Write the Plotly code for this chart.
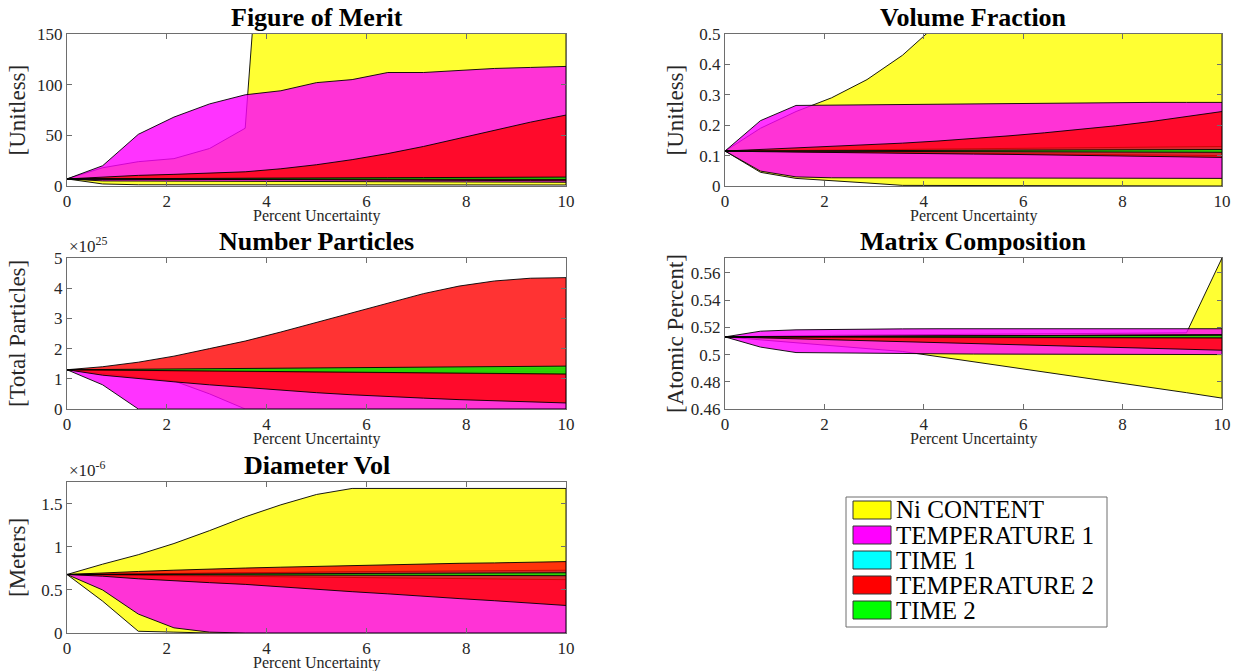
import plotly.graph_objects as go

# ---------------------------------------------------------------------------
# Sensitivity bands: for every input parameter the min/max envelope of each
# output quantity as the input uncertainty grows from 0 to 10 percent.
# ---------------------------------------------------------------------------
PCT = [0.0, 0.714, 1.429, 2.143, 2.857, 3.571, 4.286, 5.0,
       5.714, 6.429, 7.143, 7.857, 8.571, 9.286, 10.0]

PARAMS = ["Ni CONTENT", "TEMPERATURE 1", "TIME 1", "TEMPERATURE 2", "TIME 2"]
COLORS = ["255,255,0", "255,0,255", "0,255,255", "255,0,0", "0,255,0"]

# --- Figure of Merit [unitless] -------------------------------------------
fom_ni_hi = [7, 18, 24, 27, 37, 57, 530, 600, 650, 700, 720, 740, 760, 780, 800]
fom_ni_lo = [7, 2, 1.2, 1.1, 1.0, 1.0, 1.0, 1.0, 1.0, 1.0, 1.0, 1.0, 1.0, 1.0, 1.0]
fom_t1_hi = [7, 20, 51, 68, 81, 90, 94, 102, 105, 112, 112, 114, 116, 117, 118]
fom_t1_lo = [7, 5, 4.6, 4.5, 4.4, 4.3, 4.2, 4.1, 4.0, 4.0, 3.9, 3.9, 3.8, 3.8, 3.7]
fom_h1_hi = [7, 7.1, 7.1, 7.2, 7.2, 7.3, 7.3, 7.4, 7.4, 7.5, 7.5, 7.6, 7.6, 7.7, 7.7]
fom_h1_lo = [7, 6.9, 6.9, 6.8, 6.8, 6.7, 6.7, 6.6, 6.6, 6.5, 6.5, 6.4, 6.4, 6.3, 6.3]
fom_t2_hi = [7, 9, 10.5, 11.5, 12.5, 14, 17, 21, 26, 32, 39, 47, 55, 63, 70]
fom_t2_lo = [7, 6.6, 6.4, 6.3, 6.2, 6.1, 6.0, 5.9, 5.8, 5.7, 5.6, 5.5, 5.4, 5.3, 5.2]
fom_h2_hi = [7, 7.2, 7.3, 7.4, 7.5, 7.6, 7.8, 7.9, 8.0, 8.2, 8.3, 8.4, 8.5, 8.7, 8.8]
fom_h2_lo = [7, 6.9, 6.9, 6.8, 6.8, 6.8, 6.7, 6.7, 6.7, 6.6, 6.6, 6.6, 6.6, 6.5, 6.5]

# --- Volume Fraction [unitless] -------------------------------------------
vf_ni_hi = [0.115, 0.19, 0.245, 0.29, 0.35, 0.43, 0.535, 0.65, 0.78, 0.9, 1.0, 1.1, 1.2, 1.3, 1.4]
vf_ni_lo = [0.115, 0.045, 0.025, 0.018, 0.01, 0.002, 0, 0, 0, 0, 0, 0, 0, 0, 0]
vf_t1_hi = [0.115, 0.215, 0.265, 0.266, 0.267, 0.268, 0.269, 0.27, 0.271, 0.274,
            0.275, 0.275, 0.275, 0.275, 0.275]
vf_t1_lo = [0.115, 0.049, 0.03, 0.027, 0.026, 0.025, 0.025, 0.025, 0.025, 0.025,
            0.025, 0.025, 0.025, 0.025, 0.025]
vf_h1_hi = [0.115, 0.116, 0.117, 0.118, 0.119, 0.12, 0.121, 0.122, 0.123, 0.124,
            0.125, 0.126, 0.127, 0.128, 0.13]
vf_h1_lo = [0.115, 0.113, 0.112, 0.111, 0.11, 0.109, 0.108, 0.107, 0.106, 0.105,
            0.104, 0.103, 0.102, 0.101, 0.1]
vf_t2_hi = [0.115, 0.12, 0.125, 0.13, 0.135, 0.141, 0.148, 0.156, 0.165, 0.175,
            0.186, 0.198, 0.212, 0.228, 0.245]
vf_t2_lo = [0.115, 0.113, 0.111, 0.109, 0.108, 0.107, 0.106, 0.105, 0.104, 0.103,
            0.102, 0.1, 0.098, 0.096, 0.094]
vf_h2_hi = [0.115, 0.1155, 0.116, 0.1163, 0.1166, 0.117, 0.1173, 0.1176, 0.118,
            0.1183, 0.1186, 0.119, 0.1193, 0.1196, 0.12]
vf_h2_lo = [0.115, 0.1147, 0.1144, 0.1141, 0.1138, 0.1135, 0.1132, 0.113, 0.1127,
            0.1124, 0.1121, 0.1118, 0.1115, 0.1112, 0.111]

# --- Number Particles [x1e25 total particles] -----------------------------
np_ni_hi = [1.3, 1.3, 1.29, 1.29, 1.28, 1.28, 1.27, 1.27, 1.26, 1.26, 1.25, 1.25, 1.24, 1.24, 1.23]
np_ni_lo = [1.3, 1.18, 1.05, 0.93, 0.5, 0, 0, 0, 0, 0, 0, 0, 0, 0, 0]
np_t1_hi = [1.3, 1.28, 1.27, 1.26, 1.25, 1.24, 1.23, 1.22, 1.21, 1.2, 1.19, 1.18, 1.17, 1.16, 1.15]
np_t1_lo = [1.3, 0.8, 0, 0, 0, 0, 0, 0, 0, 0, 0, 0, 0, 0, 0]
np_h1_hi = [1.3, 1.3, 1.31, 1.31, 1.31, 1.32, 1.32, 1.32, 1.32, 1.33, 1.33, 1.33, 1.33, 1.33, 1.33]
np_h1_lo = [1.3, 1.29, 1.29, 1.28, 1.28, 1.28, 1.27, 1.27, 1.27, 1.26, 1.26, 1.26, 1.25, 1.25, 1.25]
np_t2_hi = [1.3, 1.4, 1.55, 1.75, 2.0, 2.25, 2.55, 2.87, 3.2, 3.52, 3.82, 4.07, 4.24, 4.33, 4.35]
np_t2_lo = [1.3, 1.12, 1.0, 0.9, 0.8, 0.7, 0.62, 0.54, 0.47, 0.41, 0.36, 0.31, 0.27, 0.23, 0.2]
np_h2_hi = [1.3, 1.31, 1.32, 1.33, 1.34, 1.35, 1.36, 1.37, 1.38, 1.38, 1.39, 1.4, 1.41, 1.42, 1.42]
np_h2_lo = [1.3, 1.29, 1.28, 1.27, 1.26, 1.25, 1.24, 1.23, 1.22, 1.21, 1.2, 1.19, 1.18, 1.17, 1.16]

# --- Matrix Composition [atomic percent] ----------------------------------
mc_ni_hi = [0.513, 0.5135, 0.514, 0.5142, 0.5144, 0.5146, 0.5148, 0.515, 0.5152,
            0.5154, 0.5156, 0.5158, 0.516, 0.516, 0.571]
mc_ni_lo = [0.513, 0.5108, 0.5087, 0.5066, 0.5044, 0.5023, 0.4985, 0.4947, 0.4909,
            0.4871, 0.4834, 0.4796, 0.4758, 0.472, 0.468]
mc_t1_hi = [0.513, 0.5172, 0.5182, 0.5186, 0.5188, 0.5189, 0.519, 0.519, 0.519,
            0.519, 0.519, 0.519, 0.519, 0.519, 0.519]
mc_t1_lo = [0.513, 0.5055, 0.5015, 0.5012, 0.501, 0.5008, 0.5006, 0.5004, 0.5003,
            0.5002, 0.5001, 0.5, 0.5, 0.5, 0.5]
mc_h1_hi = [0.513, 0.5131, 0.5132, 0.5133, 0.5134, 0.5135, 0.5136, 0.5137, 0.5138,
            0.5139, 0.514, 0.5141, 0.5142, 0.5143, 0.5145]
mc_h1_lo = [0.513, 0.5129, 0.5128, 0.5127, 0.5126, 0.5125, 0.5124, 0.5123, 0.5122,
            0.5121, 0.512, 0.512, 0.512, 0.512, 0.512]
mc_t2_hi = [0.513, 0.5131, 0.5132, 0.5133, 0.5134, 0.5135, 0.5136, 0.5137, 0.5138,
            0.5139, 0.514, 0.5141, 0.5142, 0.5144, 0.5146]
mc_t2_lo = [0.513, 0.5123, 0.5116, 0.5109, 0.5102, 0.5095, 0.5088, 0.5081, 0.5074,
            0.5067, 0.506, 0.5053, 0.5046, 0.5039, 0.5032]
mc_h2_hi = [0.513, 0.5131, 0.5132, 0.5133, 0.5134, 0.5135, 0.5136, 0.5137, 0.5138,
            0.5139, 0.514, 0.514, 0.5141, 0.5141, 0.5142]
mc_h2_lo = [0.513, 0.513, 0.5129, 0.5129, 0.5128, 0.5128, 0.5127, 0.5127, 0.5126,
            0.5126, 0.5125, 0.5125, 0.5124, 0.5124, 0.5123]

# --- Diameter Vol [x1e-6 meters] ------------------------------------------
dv_ni_hi = [0.68, 0.8, 0.91, 1.04, 1.19, 1.35, 1.49, 1.61, 1.68, 1.68, 1.68, 1.68, 1.68, 1.68, 1.68]
dv_ni_lo = [0.68, 0.37, 0.02, 0.01, 0, 0, 0, 0, 0, 0, 0, 0, 0, 0, 0]
dv_t1_hi = [0.68, 0.685, 0.69, 0.693, 0.696, 0.699, 0.702, 0.705, 0.707, 0.709,
            0.711, 0.713, 0.715, 0.717, 0.72]
dv_t1_lo = [0.68, 0.5, 0.22, 0.06, 0.01, 0, 0, 0, 0, 0, 0, 0, 0, 0, 0]
dv_h1_hi = [0.68, 0.685, 0.69, 0.694, 0.698, 0.702, 0.705, 0.709, 0.712, 0.715,
            0.718, 0.721, 0.724, 0.727, 0.73]
dv_h1_lo = [0.68, 0.675, 0.67, 0.666, 0.662, 0.658, 0.654, 0.65, 0.646, 0.642,
            0.638, 0.634, 0.63, 0.625, 0.62]
dv_t2_hi = [0.68, 0.7, 0.715, 0.73, 0.745, 0.755, 0.765, 0.775, 0.785, 0.795,
            0.8, 0.81, 0.815, 0.82, 0.83]
dv_t2_lo = [0.68, 0.66, 0.63, 0.605, 0.585, 0.565, 0.54, 0.51, 0.48, 0.455,
            0.43, 0.4, 0.375, 0.35, 0.32]
dv_h2_hi = [0.68, 0.682, 0.684, 0.686, 0.688, 0.69, 0.691, 0.692, 0.693, 0.694,
            0.695, 0.696, 0.697, 0.698, 0.7]
dv_h2_lo = [0.68, 0.679, 0.678, 0.677, 0.676, 0.675, 0.674, 0.673, 0.672, 0.671,
            0.67, 0.669, 0.668, 0.667, 0.666]

PANELS = [
    dict(title="Figure of Merit", ylabel="[Unitless]", yrange=[0, 150], dtick=50,
         bands=[(fom_ni_lo, fom_ni_hi), (fom_t1_lo, fom_t1_hi), (fom_h1_lo, fom_h1_hi),
                (fom_t2_lo, fom_t2_hi), (fom_h2_lo, fom_h2_hi)],
         px=(67, 566), py=(34, 186), exp=None),
    dict(title="Volume Fraction", ylabel="[Unitless]", yrange=[0, 0.5], dtick=0.1,
         bands=[(vf_ni_lo, vf_ni_hi), (vf_t1_lo, vf_t1_hi), (vf_h1_lo, vf_h1_hi),
                (vf_t2_lo, vf_t2_hi), (vf_h2_lo, vf_h2_hi)],
         px=(725, 1222), py=(34, 186), exp=None),
    dict(title="Number Particles", ylabel="[Total Particles]", yrange=[0, 5], dtick=1,
         bands=[(np_ni_lo, np_ni_hi), (np_t1_lo, np_t1_hi), (np_h1_lo, np_h1_hi),
                (np_t2_lo, np_t2_hi), (np_h2_lo, np_h2_hi)],
         px=(67, 566), py=(258, 409), exp="25"),
    dict(title="Matrix Composition", ylabel="[Atomic Percent]", yrange=[0.46, 0.571], dtick=0.02,
         bands=[(mc_ni_lo, mc_ni_hi), (mc_t1_lo, mc_t1_hi), (mc_h1_lo, mc_h1_hi),
                (mc_t2_lo, mc_t2_hi), (mc_h2_lo, mc_h2_hi)],
         px=(725, 1222), py=(258, 409), exp=None),
    dict(title="Diameter Vol", ylabel="[Meters]", yrange=[0, 1.755], dtick=0.5,
         bands=[(dv_ni_lo, dv_ni_hi), (dv_t1_lo, dv_t1_hi), (dv_h1_lo, dv_h1_hi),
                (dv_t2_lo, dv_t2_hi), (dv_h2_lo, dv_h2_hi)],
         px=(67, 566), py=(482, 633), exp="-6"),
]

W, H = 1241, 671
FONT = "Liberation Serif"
TXT = "#262626"
AXC = "#6e6e6e"

fig = go.Figure()
annotations = []
shapes = []

for i, p in enumerate(PANELS, start=1):
    xa = "x" if i == 1 else f"x{i}"
    ya = "y" if i == 1 else f"y{i}"
    for (lo, hi), name, col in zip(p["bands"], PARAMS, COLORS):
        fig.add_trace(go.Scatter(
            x=PCT + PCT[::-1], y=hi + lo[::-1],
            fill="toself", fillcolor=f"rgba({col},0.8)",
            line=dict(color="rgba(0,0,0,0.9)", width=1),
            mode="lines", name=name, showlegend=False, hoverinfo="skip",
            xaxis=xa, yaxis=ya))

    x0, x1 = p["px"][0] / W, p["px"][1] / W
    y0, y1 = 1 - p["py"][1] / H, 1 - p["py"][0] / H
    key = "" if i == 1 else str(i)
    common = dict(showline=True, mirror="ticks", linecolor=AXC, linewidth=1,
                  ticks="inside", ticklen=5, tickcolor=AXC, showgrid=False,
                  zeroline=False, automargin=False,
                  tickfont=dict(family=FONT, size=17, color=TXT))
    fig.layout[f"xaxis{key}"] = dict(domain=[x0, x1], range=[0, 10], tick0=0, dtick=2,
                                     anchor=ya, **common)
    fig.layout[f"yaxis{key}"] = dict(domain=[y0, y1], range=p["yrange"],
                                     tick0=p["yrange"][0], dtick=p["dtick"],
                                     anchor=xa, **common)

    cx = (x0 + x1) / 2
    annotations.append(dict(text=f"<b>{p['title']}</b>", x=cx, y=y1, xref="paper", yref="paper",
                            xanchor="center", yanchor="bottom", yshift=0, showarrow=False,
                            font=dict(family=FONT, size=26, color="black")))
    annotations.append(dict(text="Percent Uncertainty", x=cx, y=y0, xref="paper", yref="paper",
                            xanchor="center", yanchor="top", yshift=-19, showarrow=False,
                            font=dict(family=FONT, size=16, color=TXT)))
    annotations.append(dict(text=p["ylabel"], x=x0, y=(y0 + y1) / 2, xref="paper", yref="paper",
                            xanchor="right", yanchor="middle", xshift=-35, textangle=-90,
                            showarrow=False, font=dict(family=FONT, size=23, color=TXT)))
    if p["exp"]:
        annotations.append(dict(text=f"\u00d710<sup>{p['exp']}</sup>", x=x0, y=y1,
                                xref="paper", yref="paper", xanchor="left", yanchor="bottom",
                                yshift=0, showarrow=False,
                                font=dict(family=FONT, size=17, color=TXT)))

# Legend box drawn in paper space
LEG_X0, LEG_X1, LEG_Y0, LEG_Y1 = 846, 1107, 497, 627
shapes.append(dict(type="rect", xref="paper", yref="paper",
                   x0=LEG_X0 / W, x1=LEG_X1 / W, y0=1 - LEG_Y1 / H, y1=1 - LEG_Y0 / H,
                   line=dict(color=AXC, width=1), fillcolor="white"))
for k, (name, col) in enumerate(zip(PARAMS, COLORS)):
    cy = 510 + 25 * k
    shapes.append(dict(type="rect", xref="paper", yref="paper",
                       x0=853 / W, x1=891 / W, y0=1 - (cy + 9) / H, y1=1 - (cy - 9) / H,
                       line=dict(color="#333333", width=1), fillcolor=f"rgb({col})"))
    annotations.append(dict(text=name, x=894 / W, y=1 - cy / H, xref="paper", yref="paper",
                            xanchor="left", yanchor="middle", showarrow=False,
                            font=dict(family=FONT, size=25, color="black")))

fig.update_layout(width=W, height=H, margin=dict(l=0, r=0, t=0, b=0),
                  paper_bgcolor="white", plot_bgcolor="white",
                  annotations=annotations, shapes=shapes, showlegend=False)

fig.write_html("out.html")
